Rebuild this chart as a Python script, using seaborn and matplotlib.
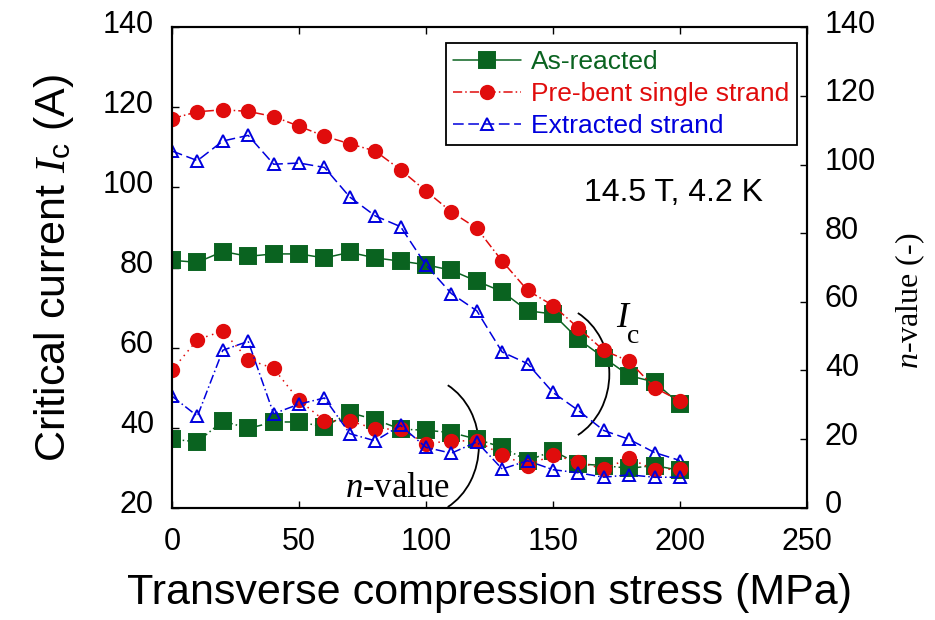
import matplotlib
matplotlib.use("Agg")
import matplotlib.pyplot as plt
import seaborn as sns
from matplotlib.patches import Arc
from matplotlib.transforms import ScaledTranslation

# Transverse compression stress (MPa)
stress = [0, 10, 20, 30, 40, 50, 60, 70, 80, 90, 100,
          110, 120, 130, 140, 150, 160, 170, 180, 190, 200]

# Critical current Ic (A), left axis
ic_as_reacted = [81.8, 81.3, 84.0, 82.8, 83.4, 83.4, 82.4, 83.8, 82.4, 81.6, 80.7,
                 79.3, 76.6, 74.0, 69.2, 68.4, 62.1, 57.5, 53.0, 51.4, 45.9]
ic_prebent = [117.2, 118.9, 119.4, 119.0, 117.7, 115.3, 112.8, 110.9, 109.1, 104.4, 99.1,
              93.9, 89.8, 81.6, 74.3, 70.5, 64.9, 59.3, 56.6, 50.0, 46.7]
ic_extracted = [109.1, 106.7, 111.6, 113.0, 105.8, 106.1, 105.0, 97.6, 92.9, 90.2, 80.6,
                73.5, 69.2, 58.9, 56.0, 48.8, 44.3, 39.3, 37.1, 33.8, 31.8]

# n-value (-), right axis
n_as_reacted = [20.0, 19.2, 25.3, 23.1, 25.0, 25.0, 23.6, 27.7, 25.7, 22.9, 22.6,
                21.9, 20.0, 17.6, 13.7, 16.6, 12.8, 12.3, 11.5, 12.3, 10.9]
n_prebent = [40.1, 49.0, 51.5, 43.2, 40.6, 31.3, 25.4, 25.3, 23.0, 22.9, 18.7,
             19.5, 19.5, 15.4, 12.3, 15.4, 13.3, 11.3, 14.4, 11.1, 11.3]
n_extracted = [32.5, 26.7, 45.9, 48.5, 27.4, 30.2, 32.0, 21.6, 19.5, 24.0, 17.6,
               15.9, 19.2, 11.3, 13.7, 11.1, 10.2, 8.9, 9.6, 8.9, 8.9]

labels = ["As-reacted", "Pre-bent single strand", "Extracted strand"]

sns.set_style("ticks")
plt.rcParams["font.family"] = ["Liberation Sans", "DejaVu Sans"]
plt.rcParams["mathtext.fontset"] = "custom"
plt.rcParams["mathtext.rm"] = "Liberation Serif"
plt.rcParams["mathtext.it"] = "Liberation Serif:italic"
plt.rcParams["mathtext.sf"] = "Liberation Sans"
for key in ["text.color", "axes.labelcolor", "xtick.color", "ytick.color", "axes.edgecolor"]:
    plt.rcParams[key] = "black"

green = "#0a6320"
red = "#e00c0c"
blue = "#0000dd"

fig, ax = plt.subplots(figsize=(9.35, 6.2), dpi=100)
fig.subplots_adjust(left=0.184, right=0.863, bottom=0.181, top=0.956)
ax2 = ax.twinx()

# style per series: colour, marker, face, size, Ic line, n line
styles = [
    (green, "s", green, 11, "-", (0, (5, 2, 1, 2))),
    (red, "o", red, 9.6, (0, (6, 2, 1, 2)), (0, (1, 3))),
    (blue, "^", "none", 8.8, (0, (7, 3)), (0, (6, 2, 1, 2))),
]
ic_data = [ic_as_reacted, ic_prebent, ic_extracted]
n_data = [n_as_reacted, n_prebent, n_extracted]

for name, ic, nv, (col, mk, face, ms, ls_ic, ls_n) in zip(labels, ic_data, n_data, styles):
    sns.lineplot(x=stress, y=ic, ax=ax, color=col, marker=mk, markersize=ms,
                 markerfacecolor=face, markeredgecolor=col, markeredgewidth=1.4,
                 linestyle=ls_ic, linewidth=1.1, label=name)
    sns.lineplot(x=stress, y=nv, ax=ax2, color=col, marker=mk, markersize=ms,
                 markerfacecolor=face, markeredgecolor=col, markeredgewidth=1.4,
                 linestyle=ls_n, linewidth=1.1, legend=False)

ax.set_xlim(0, 250)
ax.set_xticks(range(0, 251, 50))
ax.set_ylim(20, 140)
ax.set_yticks(range(20, 141, 20))
ax2.set_ylim(0, 140)
ax2.set_yticks(range(0, 141, 20))

ax.tick_params(axis="both", direction="in", length=5, width=1, labelsize=22, pad=13)
ax.tick_params(axis="x", top=True, pad=14)
ax2.tick_params(axis="y", direction="in", length=5, width=1, labelsize=22, pad=13)
for a in (ax, ax2):
    for sp in a.spines.values():
        sp.set_linewidth(1.5)
        sp.set_color("black")

# tick labels of the y axes sit a little above their ticks in the reference
lift = ScaledTranslation(0, 6 / 100, fig.dpi_scale_trans)
for lbl in ax.get_yticklabels() + ax2.get_yticklabels():
    lbl.set_transform(lbl.get_transform() + lift)

ax.set_xlabel("Transverse compression stress (MPa)", fontsize=31)
ax.set_ylabel(r"Critical current $\mathit{I}_{\mathsf{c}}$ (A)", fontsize=31)
ax2.set_ylabel(r"$\mathit{n}$-value (-)", fontsize=23, family="Liberation Serif")
ax.xaxis.set_label_coords(0.5, -0.135)
ax.yaxis.set_label_coords(-0.152, 0.5)
ax2.yaxis.set_label_coords(1.137, 0.43)

# annotations
ax.text(197.3, 98.5, "14.5 T, 4.2 K", fontsize=23, ha="center", va="center")
ax.text(174.9, 65.2, "I", fontsize=26, family="Liberation Serif", style="italic",
        ha="left", va="baseline")
ax.text(179.2, 61.2, "c", fontsize=20, family="Liberation Serif", ha="left", va="baseline")
ax.text(68, 22.7, r"$\mathit{n}$-value", fontsize=25, family="Liberation Serif",
        ha="left", va="baseline")
ax.add_patch(Arc((147.8, 53.4), width=48.8, height=35, theta1=-51.8, theta2=51.8,
                 color="black", lw=1.3))
ax.add_patch(Arc((96.6, 35.4), width=48.4, height=35, theta1=-51.8, theta2=51.8,
                 color="black", lw=1.3))

handles, _ = ax.get_legend_handles_labels()
if ax.get_legend() is not None:
    ax.get_legend().remove()
leg = ax2.legend(handles, labels, loc="upper right", bbox_to_anchor=(0.984, 0.968),
                 borderaxespad=0, fontsize=19, handlelength=2.55, labelspacing=0.3,
                 fancybox=False, framealpha=1, edgecolor="black", labelcolor="linecolor",
                 borderpad=0.28, handletextpad=0.4)
leg.get_frame().set_linewidth(1.3)

plt.savefig("out.png", dpi=100)
